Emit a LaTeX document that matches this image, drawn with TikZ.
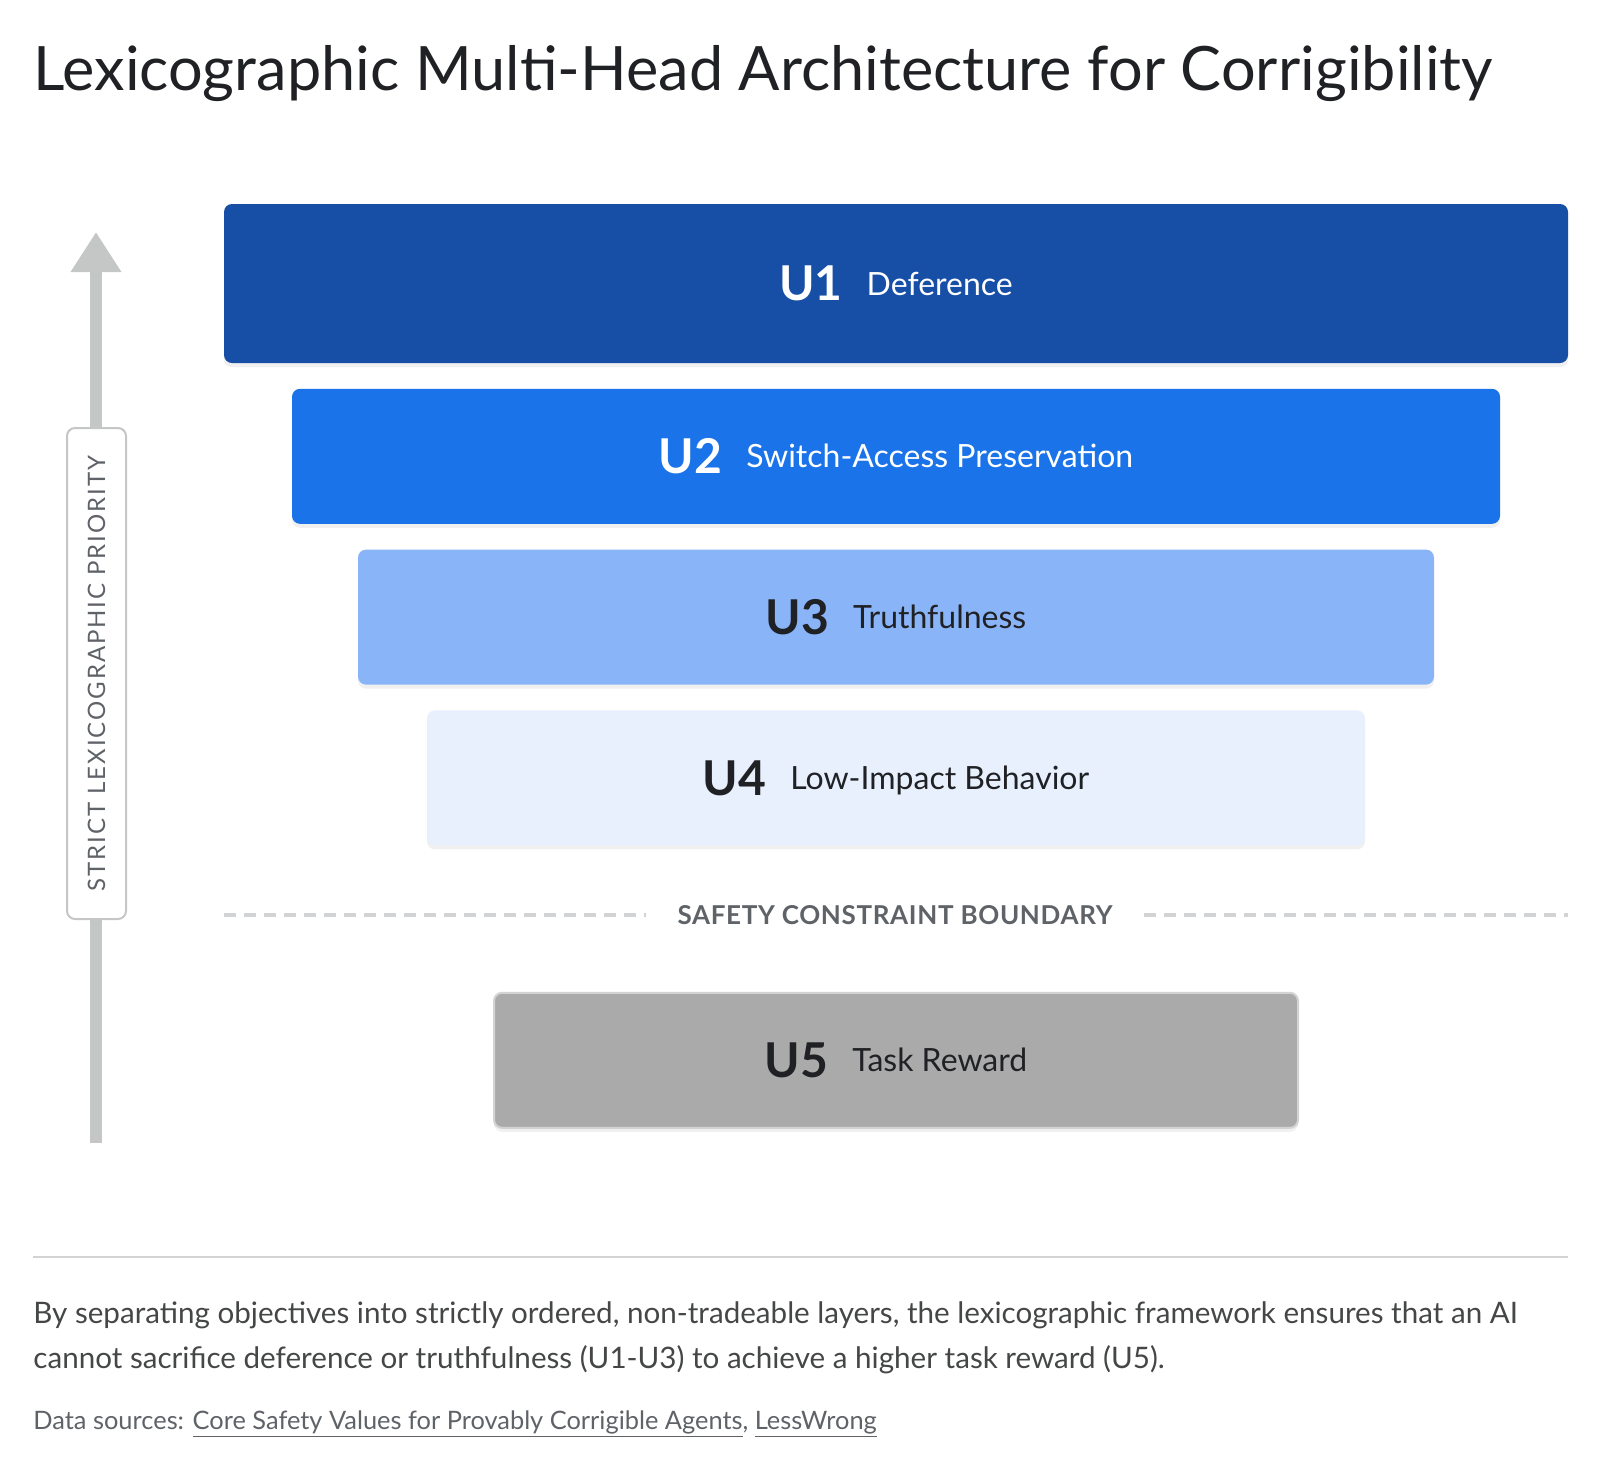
\documentclass[tikz,border=0pt]{standalone}
\usepackage{fontspec}
\setmainfont{Lato}
\newfontfamily\prioritycaps[LetterSpace=8]{Lato}
\newfontfamily\boundarycaps[LetterSpace=2.5]{Lato}
\usetikzlibrary{positioning,arrows.meta,shadows}

\definecolor{uonecol}{HTML}{174EA6}
\definecolor{utwocol}{HTML}{1A73E8}
\definecolor{uthreecol}{HTML}{8AB4F8}
\definecolor{ufourcol}{HTML}{E8F0FE}
\definecolor{ufivecol}{HTML}{AAAAAA}
\definecolor{inkcol}{HTML}{202124}
\definecolor{greytext}{HTML}{5F6368}
\definecolor{bodytext}{HTML}{444746}
\definecolor{railcol}{HTML}{C4C7C5}
\definecolor{rulecol}{HTML}{D2D3D4}

\newcommand{\layerlabel}[2]{{\fontsize{24}{28}\selectfont\bfseries #1}\hspace{12pt}\raisebox{2.9pt}{\fontsize{16}{20}\selectfont #2}}

\tikzset{
  layer/.style={rectangle, rounded corners=4pt, inner sep=0pt,
    minimum height=67.5pt, text height=17.3pt, text depth=0pt,
    drop shadow={shadow xshift=0pt, shadow yshift=-2pt, opacity=0.12}},
  rail/.style={railcol, line width=6pt, -{Triangle[width=24pt,length=20pt]}},
  boundary/.style={rulecol, line width=2pt, dash pattern=on 6pt off 4pt},
  capslabel/.style={text=greytext}
}

\begin{document}
\begin{tikzpicture}[x=0.5pt, y=-0.5pt]
            \useasboundingbox (0,0) rectangle (1600,1468);%

            % Marking the title
            \node [anchor=base west, inner sep=0pt, text=inkcol,
                   font=\fontsize{30.6}{36}\selectfont] (title) at (33,90)
                  {Lexicographic Multi-Head Architecture for Corrigibility};%

            % Drawing priority rail
            \coordinate (railbot) at (96,1143);%
            \coordinate (railtop) at (96,232);%
            \draw [rail] (railbot) -- (railtop);%

            % Marking priority label
            \node [rotate=90, draw=railcol, line width=1pt, fill=white,
                   rounded corners=4pt, minimum width=245.5pt, minimum height=29.5pt,
                   capslabel, font=\prioritycaps\fontsize{12}{14}\selectfont]
                  (prio) at (96.5,673.5) {STRICT LEXICOGRAPHIC PRIORITY};%

            % Drawing layer U1
            \node [layer, fill=uonecol, text=white, minimum width=672pt,
                   minimum height=79.5pt] (u1) at (896,283.5)
                  {\layerlabel{U1}{Deference}};%

            % Drawing layer U2
            \node [layer, fill=utwocol, text=white, minimum width=604pt,
                   below=12.5pt of u1] (u2) {\layerlabel{U2}{Switch-Access Preservation}};%

            % Drawing layer U3
            \node [layer, fill=uthreecol, text=inkcol, minimum width=538pt,
                   below=12.5pt of u2] (u3) {\layerlabel{U3}{Truthfulness}};%

            % Drawing layer U4
            \node [layer, fill=ufourcol, text=inkcol, minimum width=469pt,
                   below=12.5pt of u3] (u4) {\layerlabel{U4}{Low-Impact Behavior}};%

            % Drawing safety boundary
            \coordinate (boundl) at (224,915);%
            \coordinate (boundr) at (1568,915);%
            \draw [boundary] (boundl) -- (boundr);%
            \node [fill=white, inner xsep=16pt, capslabel,
                   font=\boundarycaps\bfseries\fontsize{13}{16}\selectfont]
                  (safety) at (895,915) {SAFETY CONSTRAINT BOUNDARY};%

            % Drawing layer U5
            \node [layer, fill=ufivecol, draw=rulecol, line width=1pt, text=inkcol,
                   minimum width=402pt, below=73pt of u4] (u5)
                  {\layerlabel{U5}{Task Reward}};%

            % Drawing footer rule
            \coordinate (rulel) at (33,1257);%
            \coordinate (ruler) at (1568,1257);%
            \draw [rulecol, line width=1pt] (rulel) -- (ruler);%

            % Marking the summary
            {\fontsize{14.8}{20}\selectfont
            \node [anchor=base west, inner sep=0pt, text=bodytext] (para1) at (33,1323)
                  {By separating objectives into strictly ordered, non-tradeable layers, the lexicographic framework ensures that an AI};%
            \node [anchor=base west, inner sep=0pt, text=bodytext] (para2) at (33,1368)
                  {cannot sacrifice deference or truthfulness (U1-U3) to achieve a higher task reward (U5).};%
            }

            % Marking the sources
            \node [anchor=base west, inner sep=0pt, text=greytext,
                   font=\fontsize{12.7}{16}\selectfont] (sources) at (33,1429)
                  {Data sources: \underline{Core Safety Values for Provably Corrigible Agents}, \underline{LessWrong}};%
\end{tikzpicture}
\end{document}
